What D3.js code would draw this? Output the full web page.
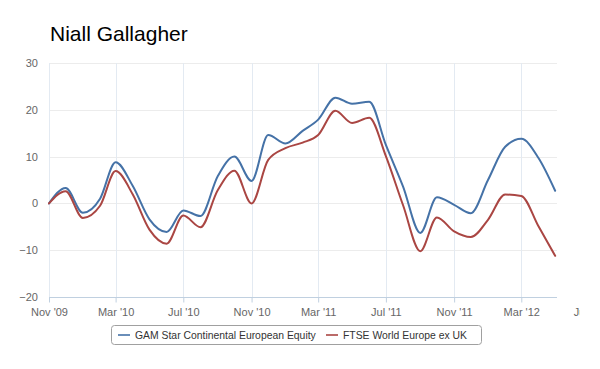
<!DOCTYPE html>
<html>
<head>
<meta charset="utf-8">
<script src="https://cdn.jsdelivr.net/npm/d3@7"></script>
<style>
  html, body { margin: 0; padding: 0; background: #fff; }
  svg { display: block; font-family: "Liberation Sans", Arial, sans-serif; }
</style>
</head>
<body>
<div id="chart"></div>
<script>
// ---- data ----
const months = ["2009-11","2009-12","2010-01","2010-02","2010-03","2010-04","2010-05","2010-06","2010-07","2010-08","2010-09","2010-10","2010-11","2010-12","2011-01","2011-02","2011-03","2011-04","2011-05","2011-06","2011-07","2011-08","2011-09","2011-10","2011-11","2011-12","2012-01","2012-02","2012-03","2012-04","2012-05"];
const gamValues = [0, 3.3, -2.0, 1.0, 8.8, 3.7, -3.4, -6.1, -1.5, -2.7, 5.8, 10.0, 4.8, 14.6, 12.8, 15.5, 17.9, 22.6, 21.3, 21.7, 12.5, 3.6, -6.3, 1.3, -0.3, -2.1, 5.0, 12.1, 13.8, 9.7, 2.7];
const ftseValues = [0, 2.6, -3.1, -0.5, 6.9, 1.9, -5.6, -8.6, -2.6, -5.1, 2.8, 7.0, 0.0, 9.3, 11.8, 13.0, 14.6, 19.8, 17.2, 18.3, 10.1, -0.4, -10.2, -3.0, -6.0, -7.2, -3.5, 1.9, 1.6, -4.9, -11.2];
const seriesNames = ["GAM Star Continental European Equity", "FTSE World Europe ex UK"];
const seriesColors = ["#4572A7", "#AA4643"];
const yTicks = [-20, -10, 0, 10, 20, 30];
const xTickMonths = ["2009-11","2010-03","2010-07","2010-11","2011-03","2011-07","2011-11","2012-03","2012-07"];
const titleText = "Niall Gallagher";

// ---- layout ----
const W = 600, H = 369;
const plotLeft = 49, plotRight = 557, plotTop = 63, plotBottom = 297;
const parse = d3.timeParse("%Y-%m");
const fmt = d3.timeFormat("%b '%y");

const x = d3.scaleTime()
  .domain([parse("2009-11"), parse("2012-07")])
  .range([plotLeft, 589]);
const y = d3.scaleLinear().domain([-20, 30]).range([plotBottom, plotTop]);

const svg = d3.select("#chart").append("svg").attr("width", W).attr("height", H);

svg.append("defs").append("clipPath").attr("id", "clipAll")
  .append("rect").attr("x", 0).attr("y", 0).attr("width", 580).attr("height", H);

// title
svg.append("text").attr("x", 50).attr("y", 41)
  .attr("font-size", 21).attr("fill", "#000")
  .attr("font-family", "Liberation Sans, Arial, sans-serif")
  .text(titleText);

// horizontal grid
svg.append("g").selectAll("line").data(yTicks).join("line")
  .attr("x1", plotLeft).attr("x2", plotRight)
  .attr("y1", d => Math.round(y(d)) + 0.5).attr("y2", d => Math.round(y(d)) + 0.5)
  .attr("stroke", d => d === -20 ? "#C0D0E0" : "#ececec").attr("stroke-width", 1);

const xTicks = xTickMonths.map(parse);
// vertical grid
svg.append("g").selectAll("line").data(xTicks.filter(d => x(d) <= plotRight)).join("line")
  .attr("x1", d => Math.round(x(d)) + 0.5).attr("x2", d => Math.round(x(d)) + 0.5)
  .attr("y1", plotTop).attr("y2", plotBottom)
  .attr("stroke", "#e3eaf2").attr("stroke-width", 1);

// x axis via d3 axis
const xAxis = d3.axisBottom(x).tickValues(xTicks).tickFormat(fmt).tickSize(5).tickPadding(6);
const gx = svg.append("g").attr("transform", `translate(0,${plotBottom + 0.5})`)
  .attr("clip-path", "url(#clipAll)")
  .call(xAxis);
gx.select(".domain").remove();
gx.selectAll(".tick line").attr("stroke", "#C0D0E0");
gx.selectAll(".tick text").attr("fill", "#666").attr("font-size", 11)
  .attr("font-family", "Liberation Sans, Arial, sans-serif");
gx.selectAll(".tick").filter(d => x(d) > plotRight).select("line").remove();

// y axis labels
const yAxis = d3.axisLeft(y).tickValues(yTicks).tickSize(0).tickPadding(11);
const gy = svg.append("g").attr("transform", `translate(${plotLeft},0)`).call(yAxis);
gy.select(".domain").remove();
gy.selectAll(".tick text").attr("fill", "#666").attr("font-size", 11)
  .attr("font-family", "Liberation Sans, Arial, sans-serif");

// lines
const line = d3.line()
  .x((d, i) => x(parse(months[i])))
  .y(d => y(d))
  .curve(d3.curveMonotoneX);

[gamValues, ftseValues].forEach((vals, k) => {
  svg.append("path").datum(vals)
    .attr("d", line)
    .attr("fill", "none")
    .attr("stroke", seriesColors[k])
    .attr("stroke-width", 2)
    .attr("stroke-linejoin", "round")
    .attr("stroke-linecap", "round");
});

// legend
const lg = svg.append("g");
const lgX = 111.5, lgY = 325.5, lgW = 370, lgH = 19;
lg.append("rect").attr("x", lgX).attr("y", lgY).attr("width", lgW).attr("height", lgH)
  .attr("rx", 3).attr("fill", "#fff").attr("stroke", "#a0a0a0").attr("stroke-width", 1);
const itemX = [118, 326];
seriesNames.forEach((name, i) => {
  const ix = itemX[i];
  lg.append("line").attr("x1", ix).attr("x2", ix + 12)
    .attr("y1", 335).attr("y2", 335)
    .attr("stroke", seriesColors[i]).attr("stroke-width", 1.6);
  lg.append("text").attr("x", ix + 17).attr("y", 338.8)
    .attr("font-size", 10.4).attr("fill", "#333")
    .attr("font-family", "Liberation Sans, Arial, sans-serif")
    .text(name);
});
</script>
</body>
</html>
